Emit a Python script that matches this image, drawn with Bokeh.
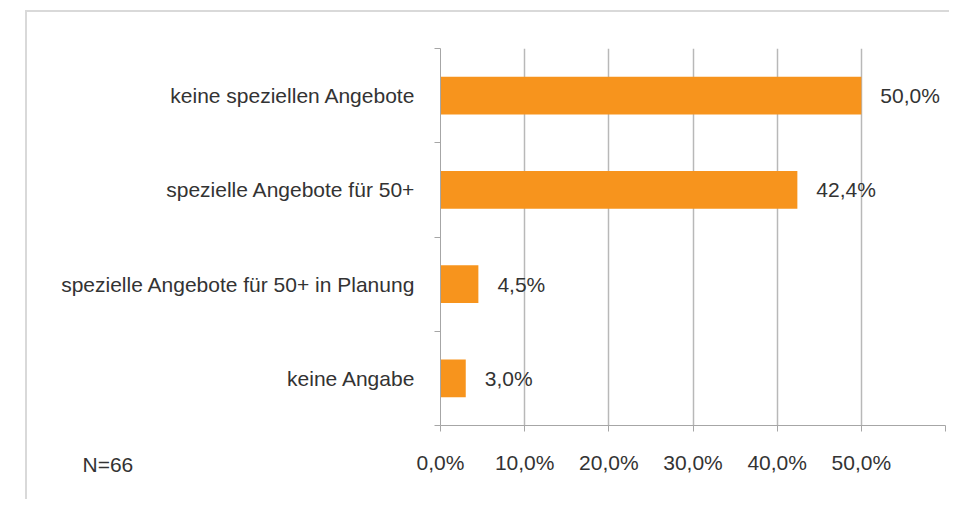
from bokeh.plotting import figure
from bokeh.models import FixedTicker, ColumnDataSource, Label, InlineStyleSheet
from bokeh.core.properties import value
from bokeh.embed import file_html
from bokeh.resources import INLINE

categories = ["keine speziellen Angebote", "spezielle Angebote für 50+",
              "spezielle Angebote für 50+ in Planung", "keine Angabe"]
values = [50.0, 42.4, 4.5, 3.0]
value_labels = ["50,0%", "42,4%", "4,5%", "3,0%"]
x_ticks = [0, 10, 20, 30, 40, 50, 60]
x_tick_labels = ["0,0%", "10,0%", "20,0%", "30,0%", "40,0%", "50,0%", ""]
note = "N=66"

FONT = "Liberation Sans"
TXT = "#333333"
n = len(categories)
ypos = [n - i - 0.5 for i in range(n)]

src = ColumnDataSource(dict(y=ypos, v=values, lab=value_labels, cat=categories))

p = figure(width=949, height=499, x_range=(0, 60), y_range=(0, n),
           output_backend="svg", toolbar_location=None,
           min_border_left=440, min_border_right=4, min_border_top=48, min_border_bottom=70)
p.outline_line_color = None
p.background_fill_color = "white"
p.border_fill_color = "white"

p.hbar(y="y", right="v", left=0, height=0.4, source=src, color="#F7941D", line_color=None)
p.text(x="v", y="y", text="lab", source=src, x_offset=19, text_baseline="middle",
       text_align="left", text_font=value(FONT), text_font_size="21px", text_color=TXT)

# x axis
p.xaxis.ticker = FixedTicker(ticks=x_ticks)
p.xaxis.major_label_overrides = {t: l for t, l in zip(x_ticks, x_tick_labels)}
p.xaxis.axis_line_color = "#a6a6a6"
p.xaxis.major_tick_line_color = "#a6a6a6"
p.xaxis.major_tick_out = 6
p.xaxis.major_tick_in = 0
p.xaxis.minor_tick_line_color = None
p.xaxis.major_label_standoff = 19
p.xaxis.major_label_text_font = FONT
p.xaxis.major_label_text_font_size = "21px"
p.xaxis.major_label_text_color = TXT

# y axis
p.yaxis.ticker = FixedTicker(ticks=ypos, minor_ticks=list(range(n + 1)))
p.yaxis.major_label_overrides = {y: c for y, c in zip(ypos, categories)}
p.yaxis.axis_line_color = "#a6a6a6"
p.yaxis.major_tick_line_color = None
p.yaxis.major_tick_out = 0
p.yaxis.major_tick_in = 0
p.yaxis.minor_tick_line_color = "#a6a6a6"
p.yaxis.minor_tick_out = 6
p.yaxis.minor_tick_in = 0
p.yaxis.major_label_standoff = 19
p.yaxis.major_label_text_font = FONT
p.yaxis.major_label_text_font_size = "21px"
p.yaxis.major_label_text_color = TXT

p.xgrid.ticker = FixedTicker(ticks=x_ticks)
p.xgrid.grid_line_color = "#b8b8b8"
p.xgrid.grid_line_width = 1.5
p.ygrid.grid_line_color = None

# light grey container border (top and left edges)
p.stylesheets = [InlineStyleSheet(css=(
    ":host { position: relative; }"
    ":host::before { content: ''; position: absolute; left: 25px; top: 10px; right: 0; bottom: 0;"
    " border-left: 2px solid #d9d9d9; border-top: 2px solid #d9d9d9;"
    " pointer-events: none; z-index: 10; }"))]

# footnote
lab = Label(x=-358, y=35, x_units="screen", y_units="screen", text=note,
            text_font=FONT, text_font_size="21px", text_color=TXT, text_baseline="middle")
p.add_layout(lab, "below")

open("out.html", "w").write(file_html(p, INLINE))
